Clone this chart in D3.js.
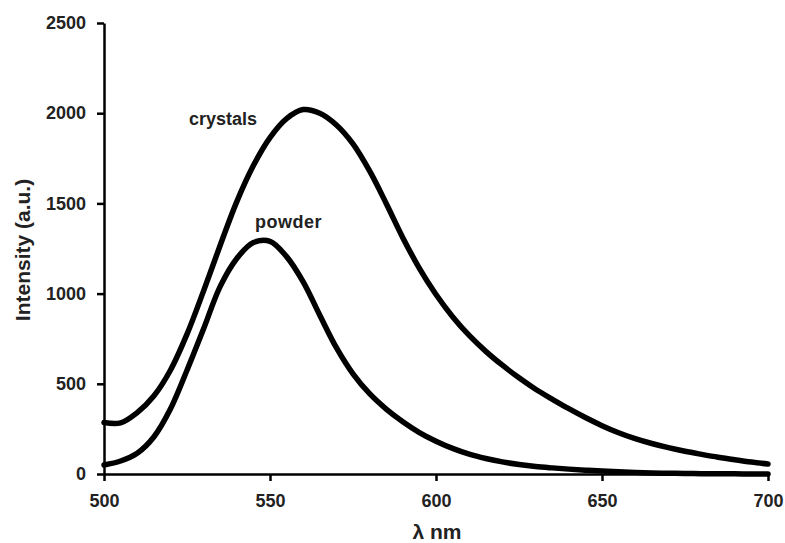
<!DOCTYPE html>
<html>
<head>
<meta charset="utf-8">
<script src="https://cdn.jsdelivr.net/npm/d3@7"></script>
<style>
  body { margin: 0; background: #fff; }
  text { font-family: "Liberation Sans", Arial, sans-serif; }
</style>
</head>
<body>
<div class="chart"></div>
<script>
var svgWidth = 785;
var svgHeight = 543;

// wavelength grid, 5 nm steps
var wavelengths = d3.range(500, 701, 5);

var crystals = [285, 283, 340, 432, 575, 775, 1015, 1268, 1510, 1710, 1865, 1970, 2020,
  2000, 1935, 1830, 1680, 1500, 1310, 1140, 995, 872, 768, 680, 603, 533, 470, 415,
  362, 313, 268, 229, 196, 169, 146, 126, 109, 93, 79, 66, 55];

var powder = [50, 72, 115, 205, 360, 575, 805, 1040, 1195, 1283, 1290, 1205, 1065,
  880, 700, 555, 445, 360, 290, 230, 182, 142, 110, 86, 67, 53, 42, 34, 27, 21, 16,
  12, 9, 6, 4, 3, 2, 1, 1, 0, 0];

var xTicks = [500, 550, 600, 650, 700];
var yTicks = [0, 500, 1000, 1500, 2000, 2500];

var svg = d3.select(".chart")
  .append("svg")
  .attr("width", svgWidth)
  .attr("height", svgHeight);

var xScale = d3.scaleLinear().domain([500, 700]).range([104, 768]);
var yScale = d3.scaleLinear().domain([0, 2500]).range([474, 23]);

// curves
var drawLine = d3.line()
  .x(d => xScale(d[0]))
  .y(d => yScale(d[1]))
  .curve(d3.curveCatmullRom.alpha(0.5));

[crystals, powder].forEach(function(series) {
  svg.append("path")
    .attr("d", drawLine(wavelengths.map((w, i) => [w, series[i]])))
    .attr("fill", "none")
    .attr("stroke", "#000")
    .attr("stroke-width", 5.5)
    .attr("stroke-linejoin", "round")
    .attr("stroke-linecap", "round");
});

// axes
var bottomAxis = d3.axisBottom(xScale).tickValues(xTicks).tickFormat(d3.format("d"))
  .tickSize(7).tickSizeOuter(0).tickPadding(13);
var leftAxis = d3.axisLeft(yScale).tickValues(yTicks).tickFormat(d3.format("d"))
  .tickSize(7).tickSizeOuter(0).tickPadding(11);

var gx = svg.append("g")
  .attr("transform", "translate(0,474)")
  .call(bottomAxis);

var gy = svg.append("g")
  .attr("transform", "translate(104,0)")
  .call(leftAxis);

[gx, gy].forEach(function(g) {
  g.select(".domain").attr("stroke", "#000").attr("stroke-width", 2.5);
  g.selectAll(".tick line").attr("stroke", "#000").attr("stroke-width", 2.5);
  g.selectAll(".tick text")
    .attr("fill", "#222")
    .style("font-size", "18px")
    .style("font-weight", "bold")
    .style("font-family", "'Liberation Sans', Arial, sans-serif");
});

// series labels
svg.append("text")
  .attr("x", 189).attr("y", 125)
  .style("font-size", "18px").style("font-weight", "bold")
  .attr("fill", "#222")
  .text("crystals");

svg.append("text")
  .attr("x", 255).attr("y", 228)
  .style("font-size", "18px").style("font-weight", "bold")
  .style("letter-spacing", "0.5px")
  .attr("fill", "#222")
  .text("powder");

// axis titles
svg.append("text")
  .attr("x", 437).attr("y", 539)
  .attr("text-anchor", "middle")
  .style("font-size", "21px").style("font-weight", "bold")
  .attr("fill", "#222")
  .text("λ nm");

svg.append("text")
  .attr("transform", "translate(30,250) rotate(-90)")
  .attr("text-anchor", "middle")
  .style("font-size", "21px").style("font-weight", "bold")
  .attr("fill", "#222")
  .text("Intensity (a.u.)");
</script>
</body>
</html>
